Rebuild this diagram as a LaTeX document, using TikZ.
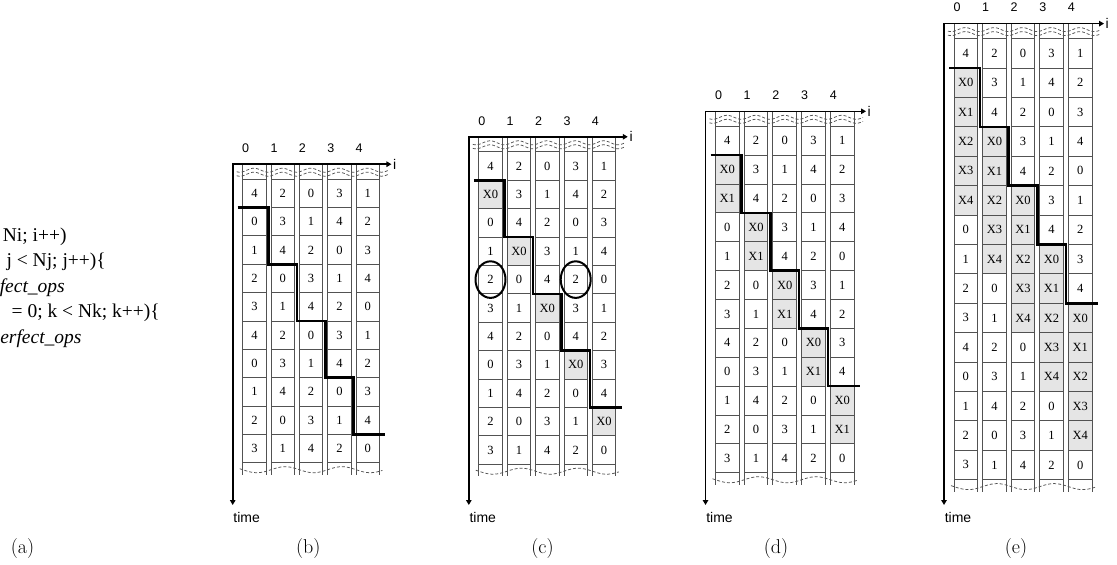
\documentclass[tikz,border=0pt]{standalone}
\usepackage{fontspec}
\newfontfamily\codefont{Liberation Serif}
\newfontfamily\axisfont{Liberation Sans}
\usetikzlibrary{arrows.meta}

\tikzset{
  cell/.style={draw=black!68, line width=0.9pt, inner sep=0pt,
    font=\codefont\fontsize{12.5}{12.5}\selectfont},
  xcell/.style={cell, fill=black!10},
  stripline/.style={draw=black!68, line width=0.9pt},
  breakline/.style={draw=black!68, line width=0.75pt, dash pattern=on 3pt off 2pt},
  axisline/.style={line width=1.6pt,
    {Triangle[length=5pt,width=5.5pt]}-{Triangle[length=5pt,width=5.5pt]}},
  stair/.style={line width=2.6pt},
  ring/.style={line width=2pt},
  code/.style={inner sep=0pt, anchor=base east,
    font=\codefont\fontsize{19.5}{20}\selectfont},
  colnum/.style={inner sep=0pt, font=\axisfont\fontsize{12.5}{12.5}\selectfont},
  axlabel/.style={inner sep=0pt, font=\axisfont\fontsize{14}{14}\selectfont},
  caption/.style={inner sep=0pt, font=\fontsize{20}{20}\selectfont},
}

% One schedule panel:
% #1 name prefix, #2 x of the time axis, #3 inserted X cells per column,
% #4 top of the first row, #5 row pitch, #6 column pitch,
% #7 x of the caption, #8 caption
\newcommand{\schedpanel}[8]{%
  \pgfmathsetmacro{\ax}{#2}%
  \pgfmathtruncatemacro{\nr}{10+#3}%
  \pgfmathtruncatemacro{\rl}{\nr-1}%
  \pgfmathsetmacro{\pv}{#5}%
  \pgfmathsetmacro{\ph}{#6}%
  \pgfmathsetmacro{\cw}{\ph-5}%
  \pgfmathsetmacro{\rt}{#4}%             top of the first row
  \pgfmathsetmacro{\at}{\rt-15}%         height of the i axis
  \pgfmathsetmacro{\rb}{\rt+\nr*\pv}%    bottom of the last row
  \pgfmathsetmacro{\xe}{\ax+10+4*\ph+\cw}% right side of the last column
  % column strips, running through the breaks
  \foreach \cc in {0,...,4}{
    \pgfmathsetmacro{\xl}{\ax+10+\ph*\cc}
    \pgfmathsetmacro{\xr}{\xl+\cw}
    \draw[stripline] (\xl,\at) -- (\xl,\rb+12) (\xr,\at) -- (\xr,\rb+12);
  }
  % break marks above the first row and below the last row
  \pgfmathsetmacro{\bxa}{\ax+4}%
  \pgfmathsetmacro{\bxb}{\xe+9}%
  \pgfmathsetmacro{\bxc}{\ax+7}%
  \pgfmathsetmacro{\bxd}{\xe+3}%
  \foreach \yy in {6,10}{
    \draw[breakline] plot[domain=\bxa:\bxb, samples=90]
      (\x, {\at+\yy+2*sin((\x-\ax)/\ph*360)});
  }
  \draw[breakline] plot[domain=\bxc:\bxd, samples=90]
      (\x, {\rb+7+3*sin((\x-\ax-10)/(2*\ph)*360)});
  % cells
  \foreach \cc in {0,...,4}{
    \foreach \rr in {0,...,\rl}{
      \pgfmathtruncatemacro{\srow}{1+2*\cc}
      \pgfmathsetmacro{\cxx}{\ax+10+\cw/2+\ph*\cc}
      \pgfmathsetmacro{\cyy}{\rt+\pv/2+\pv*\rr}
      \ifnum\rr<\srow
        \pgfmathtruncatemacro{\val}{mod(\rr+4+3*\cc,5)}
        \node[cell, minimum width=\cw pt, minimum height=\pv pt]
          (#1-\rr-\cc) at (\cxx,\cyy) {\val};
      \else
        \pgfmathtruncatemacro{\idx}{\rr-\srow}
        \ifnum\idx<#3
          \node[xcell, minimum width=\cw pt, minimum height=\pv pt]
            (#1-\rr-\cc) at (\cxx,\cyy) {X\idx};
        \else
          \pgfmathtruncatemacro{\val}{mod(\rr-#3+4+3*\cc,5)}
          \node[cell, minimum width=\cw pt, minimum height=\pv pt]
            (#1-\rr-\cc) at (\cxx,\cyy) {\val};
        \fi
      \fi
    }
  }
  % axes
  \coordinate (#1-o) at (\ax,\at);
  \coordinate (#1-ie) at ({\xe+12},\at);
  \coordinate (#1-te) at (\ax,505);
  \draw[axisline] (#1-ie) -- (#1-o) -- (#1-te);
  \node[axlabel, anchor=west] (#1-i) at ({\xe+13.5},\at) {i};
  \foreach \cc in {0,...,4}{
    \node[colnum] (#1-h\cc) at ({\ax+13+\ph*\cc},{\at-16}) {\cc};
  }
  \node[axlabel] (#1-time) at ({\ax+14},517.5) {time};
  % staircase
  \draw[stair] ({\ax+5},{\rt+\pv})
    -- ({\ax+7.5+\ph},{\rt+\pv})     -- ({\ax+7.5+\ph},{\rt+3*\pv})
    -- ({\ax+7.5+2*\ph},{\rt+3*\pv}) -- ({\ax+7.5+2*\ph},{\rt+5*\pv})
    -- ({\ax+7.5+3*\ph},{\rt+5*\pv}) -- ({\ax+7.5+3*\ph},{\rt+7*\pv})
    -- ({\ax+7.5+4*\ph},{\rt+7*\pv}) -- ({\ax+7.5+4*\ph},{\rt+9*\pv})
    -- ({\xe+6},{\rt+9*\pv});
  \node[caption] (#1-cap) at (#7,548.5) {#8};
}

\begin{document}
\begin{tikzpicture}[x=1pt,y=-1pt]
  \useasboundingbox (0,0) rectangle (1117,565);

  % (a) loop nest
  \node[code] (a1) at (66.7,241) {Ni; i++)};
  \node[code] (a2) at (106,266.5) {j < Nj; j++)\{};
  \node[code] (a3) at (65,292) {\itshape fect\_ops};
  \node[code] (a4) at (160,317.5) {= 0; k < Nk; k++)\{};
  \node[code] (a5) at (81.7,343) {\itshape erfect\_ops};
  \node[caption] (a-cap) at (22.5,548.5) {(a)};

  \schedpanel{b}{232.7}{0}{179.2}{28.35}{28.35}{308.3}{(b)}
  \schedpanel{c}{468.8}{1}{151.8}{28.4}{28.4}{542.5}{(c)}
  \draw[ring] (c-4-0) ellipse [x radius=15, y radius=18.3];
  \draw[ring] (c-4-3) ellipse [x radius=15, y radius=18.3];
  \schedpanel{d}{705.5}{2}{126.3}{28.87}{28.7}{776}{(d)}
  \schedpanel{e}{944}{5}{38.6}{29.4}{28.6}{1016}{(e)}
\end{tikzpicture}
\end{document}
